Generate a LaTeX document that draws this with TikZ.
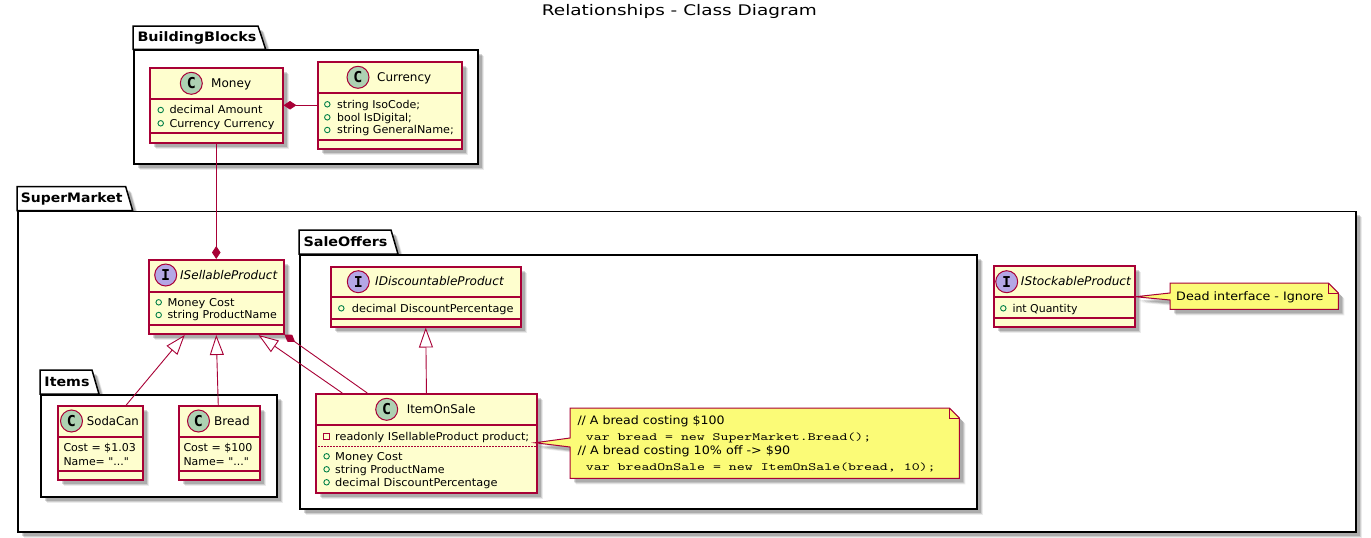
\documentclass[tikz,border=0pt]{standalone}
\usepackage{fontspec}
\setmainfont{DejaVu Sans}
\newfontfamily\plainfont{DejaVu Sans}
\newfontfamily\spotfont{DejaVu Sans Mono}
\newfontfamily\codefont{Latin Modern Mono}
\usetikzlibrary{arrows.meta,shadows,calc}
\definecolor{umlred}{HTML}{A80036}
\definecolor{umlfill}{HTML}{FEFECE}
\definecolor{umlnote}{HTML}{FBFB77}
\definecolor{spotc}{HTML}{ADD1B2}
\definecolor{spoti}{HTML}{B4A7E5}
\definecolor{visgreen}{HTML}{038048}
\newcommand{\fitw}[2]{\resizebox{#1pt}{\height}{#2}}
\tikzset{
  softshadow/.style={
    drop shadow={shadow xshift=6pt,shadow yshift=-6pt,fill=black,opacity=.08},
    drop shadow={shadow xshift=5pt,shadow yshift=-5pt,fill=black,opacity=.12},
    drop shadow={shadow xshift=4pt,shadow yshift=-4pt,fill=black,opacity=.16}},
  pkgshape/.style={draw=black,line width=1.5pt,fill=white,softshadow,line join=miter},
  pkgbody/.style={rectangle,draw=black,line width=1.5pt,fill=white,softshadow,inner sep=0pt,anchor=north west},
  pkgtitle/.style={anchor=west,inner sep=0pt,font=\fontsize{13}{15}\selectfont\bfseries,text height=10pt,text depth=2pt},
  classbox/.style={rectangle,draw=umlred,line width=1.5pt,fill=umlfill,softshadow,inner sep=0pt,anchor=north west},
  sepline/.style={draw=umlred,line width=1.2pt},
  dotline/.style={draw=umlred,line width=.7pt,dash pattern=on 1.5pt off 1.5pt},
  spotC/.style={circle,draw=umlred,line width=1pt,fill=spotc,minimum size=22pt,inner sep=0pt,font=\fontsize{15}{15}\selectfont\spotfont\bfseries},
  spotI/.style={spotC,fill=spoti},
  cname/.style={anchor=west,inner sep=0pt,font=\fontsize{12}{14}\selectfont,text height=9pt,text depth=.5pt},
  iname/.style={cname,font=\fontsize{12}{14}\selectfont\itshape},
  attr/.style={anchor=west,inner sep=0pt,font=\fontsize{10.8}{12}\selectfont,text height=8pt,text depth=.5pt},
  pub/.style={circle,draw=visgreen,line width=.9pt,minimum size=5.5pt,inner sep=0pt},
  priv/.style={rectangle,draw=umlred,line width=.9pt,minimum size=5.5pt,inner sep=0pt},
  link/.style={draw=umlred,line width=.9pt},
  composed/.style={link,{Diamond[length=13pt,width=8.5pt,fill=umlred]}-},
  inherit/.style={link,{Triangle[open,length=20pt,width=14pt,fill=white,line width=.9pt]}-},
  noteanchor/.style={rectangle,inner sep=0pt,anchor=north west},
  noteshape/.style={draw=umlred,line width=1pt,fill=umlnote,softshadow,line join=miter},
  folded/.style={draw=umlred,line width=1pt},
  notetext/.style={anchor=west,inner sep=0pt,font=\fontsize{11.6}{14}\selectfont,text height=9pt,text depth=1pt},
  codetext/.style={anchor=west,inner sep=0pt,font=\fontsize{11}{13}\selectfont\codefont,text height=8pt,text depth=.5pt},
  maintitle/.style={anchor=west,inner sep=0pt,font=\fontsize{14.6}{18}\selectfont,text height=11pt,text depth=1pt},
}
\begin{document}
\begin{tikzpicture}[x=1pt,y=-1pt]
\useasboundingbox (0,0) rectangle (1371,538);
\fill[white] (0,0) rectangle (1371,538);
\node[maintitle] (title) at (541.7,10.5) {\fitw{275}{Relationships - Class Diagram}};

% packages
\draw[pkgshape] (133,49.3) -- (133,26) -- (258,26) -- (265.7,49.3) -- cycle;
\node[pkgbody,minimum width=344pt,minimum height=114pt] (bb) at (133,49.3) {};
\node[pkgtitle] (bbt) at (137.3,37.3) {\fitw{119}{BuildingBlocks}};

\draw[pkgshape] (17,210.7) -- (17,186.7) -- (125.7,186.7) -- (132.7,210.7) -- cycle;
\node[pkgbody,minimum width=1338pt,minimum height=320.5pt] (sm) at (17,210.7) {};
\node[pkgtitle] (smt) at (20.7,198.7) {\fitw{101.6}{SuperMarket}};

\draw[pkgshape] (40,394) -- (40,370) -- (92,370) -- (99,394) -- cycle;
\node[pkgbody,minimum width=236pt,minimum height=102pt] (items) at (40,394) {};
\node[pkgtitle] (itemst) at (44.3,382) {\fitw{45}{Items}};

\draw[pkgshape] (299,254) -- (299,230) -- (391,230) -- (398,254) -- cycle;
\node[pkgbody,minimum width=677pt,minimum height=254pt] (so) at (299,254) {};
\node[pkgtitle] (sot) at (303.3,242) {\fitw{84}{SaleOffers}};

% Money
\node[classbox,minimum width=133pt,minimum height=75pt] (money) at (149,67) {};
\draw[sepline] (money.west |- 0,99) -- (money.east |- 0,99);
\draw[sepline] (money.west |- 0,133) -- (money.east |- 0,133);
\node[spotC] (moneyS) at (191.3,83.3) {C};
\node[cname] (moneyN) at (211,83.3) {\fitw{40}{Money}};
\node[pub] (moneyV1) at (160.7,110) {};
\node[attr] (moneyA1) at (169.3,110) {\fitw{93}{decimal Amount}};
\node[pub] (moneyV2) at (160.7,123.3) {};
\node[attr] (moneyA2) at (169.3,123.3) {\fitw{105}{Currency Currency}};

% Currency
\node[classbox,minimum width=144pt,minimum height=87pt] (currency) at (317,61) {};
\draw[sepline] (currency.west |- 0,93) -- (currency.east |- 0,93);
\draw[sepline] (currency.west |- 0,140) -- (currency.east |- 0,140);
\node[spotC] (currencyS) at (358,77.3) {C};
\node[cname] (currencyN) at (377,77.3) {\fitw{54}{Currency}};
\node[pub] (currencyV1) at (327.3,104.3) {};
\node[attr] (currencyA1) at (337,104.3) {\fitw{83}{string IsoCode;}};
\node[pub] (currencyV2) at (327.3,117.3) {};
\node[attr] (currencyA2) at (337,117.3) {\fitw{74.7}{bool IsDigital;}};
\node[pub] (currencyV3) at (327.3,130) {};
\node[attr] (currencyA3) at (337,130) {\fitw{116.7}{string GeneralName;}};

% ISellableProduct
\node[classbox,minimum width=135pt,minimum height=74pt] (isell) at (148,259) {};
\draw[sepline] (isell.west |- 0,292) -- (isell.east |- 0,292);
\draw[sepline] (isell.west |- 0,325) -- (isell.east |- 0,325);
\node[spotI] (isellS) at (165.7,275) {I};
\node[iname] (isellN) at (180,275) {\fitw{97}{ISellableProduct}};
\node[pub] (isellV1) at (158.7,302.3) {};
\node[attr] (isellA1) at (167.3,302.3) {\fitw{67}{Money Cost}};
\node[pub] (isellV2) at (158.7,315) {};
\node[attr] (isellA2) at (167.3,315) {\fitw{109.3}{string ProductName}};

% SodaCan
\node[classbox,minimum width=85pt,minimum height=74pt] (soda) at (57,405) {};
\draw[sepline] (soda.west |- 0,437) -- (soda.east |- 0,437);
\draw[sepline] (soda.west |- 0,471) -- (soda.east |- 0,471);
\node[spotC] (sodaS) at (71.5,421) {C};
\node[cname] (sodaN) at (86.7,421) {\fitw{52}{SodaCan}};
\node[attr] (sodaA1) at (63.3,448) {\fitw{72.3}{Cost = \$1.03}};
\node[attr] (sodaA2) at (63.3,461.3) {\fitw{65.3}{\plainfont Name= "..."}};

% Bread
\node[classbox,minimum width=81pt,minimum height=74pt] (bread) at (178,405) {};
\draw[sepline] (bread.west |- 0,437) -- (bread.east |- 0,437);
\draw[sepline] (bread.west |- 0,471) -- (bread.east |- 0,471);
\node[spotC] (breadS) at (198.5,421) {C};
\node[cname] (breadN) at (214,421) {\fitw{35.5}{Bread}};
\node[attr] (breadA1) at (183.3,448) {\fitw{69}{Cost = \$100}};
\node[attr] (breadA2) at (183.3,461.3) {\fitw{65.3}{\plainfont Name= "..."}};

% IDiscountableProduct
\node[classbox,minimum width=190pt,minimum height=60pt] (idisc) at (330,266) {};
\draw[sepline] (idisc.west |- 0,297) -- (idisc.east |- 0,297);
\draw[sepline] (idisc.west |- 0,319) -- (idisc.east |- 0,319);
\node[spotI] (idiscS) at (358.3,281.7) {I};
\node[iname] (idiscN) at (375,281.7) {\fitw{128.5}{IDiscountableProduct}};
\node[pub] (idiscV1) at (341.3,308.3) {};
\node[attr] (idiscA1) at (351.7,308.3) {\fitw{161.7}{decimal DiscountPercentage}};

% ItemOnSale
\node[classbox,minimum width=221pt,minimum height=99pt] (sale) at (315,393) {};
\draw[sepline] (sale.west |- 0,425) -- (sale.east |- 0,425);
\draw[dotline] (sale.west |- 0,446) -- (sale.east |- 0,446);
\node[spotC] (saleS) at (386.7,409.3) {C};
\node[cname] (saleN) at (406.7,409.3) {\fitw{68.6}{ItemOnSale}};
\node[priv] (saleV0) at (326.4,436.3) {};
\node[attr] (saleA0) at (335,436.3) {\fitw{194}{readonly ISellableProduct product;}};
\node[pub] (saleV1) at (326.6,456.3) {};
\node[attr] (saleA1) at (335,456.3) {\fitw{67.3}{Money Cost}};
\node[pub] (saleV2) at (326.6,469.3) {};
\node[attr] (saleA2) at (335,469.3) {\fitw{109.3}{string ProductName}};
\node[pub] (saleV3) at (326.6,482.3) {};
\node[attr] (saleA3) at (335,482.3) {\fitw{162.3}{decimal DiscountPercentage}};

% IStockableProduct
\node[classbox,minimum width=141pt,minimum height=61pt] (istock) at (993,265) {};
\draw[sepline] (istock.west |- 0,297) -- (istock.east |- 0,297);
\draw[sepline] (istock.west |- 0,318) -- (istock.east |- 0,318);
\node[spotI] (istockS) at (1006.7,281.7) {I};
\node[iname] (istockN) at (1020.7,281.7) {\fitw{110}{IStockableProduct}};
\node[pub] (istockV1) at (1003.3,308.3) {};
\node[attr] (istockA1) at (1012.3,308.3) {\fitw{65}{int Quantity}};

% notes
\node[noteanchor,minimum width=168pt,minimum height=26pt] (deadnote) at (1170,283) {};
\coordinate (deadtip) at ($(istock.east)+(0,0.5)$);
\draw[noteshape] (deadnote.north west) -- ($(deadnote.north east)+(-10,0)$) -- ($(deadnote.north east)+(0,10)$) -- (deadnote.south east) -- (deadnote.south west) -- (deadnote.west |- 0,300) -- (deadtip) -- (deadnote.west |- 0,293) -- cycle;
\draw[folded] ($(deadnote.north east)+(-10,0)$) |- ($(deadnote.north east)+(0,10)$);
\node[notetext] (deadtext) at (1176,296.5) {\fitw{147.3}{Dead interface - Ignore}};

\node[noteanchor,minimum width=389pt,minimum height=70pt] (codenote) at (570,408) {};
\coordinate (codetip) at ($(sale.east)+(-2.5,-0.5)$);
\draw[noteshape] (codenote.north west) -- ($(codenote.north east)+(-10,0)$) -- ($(codenote.north east)+(0,10)$) -- (codenote.south east) -- (codenote.south west) -- (codenote.west |- 0,447) -- (codetip) -- (codenote.west |- 0,438) -- cycle;
\draw[folded] ($(codenote.north east)+(-10,0)$) |- ($(codenote.north east)+(0,10)$);
\node[notetext] (code1) at (577.3,420.7) {\fitw{147}{// A bread costing \$100}};
\node[codetext] (code2) at (585.7,436.7) {\fitw{285.3}{var bread = new SuperMarket.Bread();}};
\node[notetext] (code3) at (577.3,450.7) {\fitw{212.7}{// A bread costing 10\% off -> \$90}};
\node[codetext] (code4) at (585.7,466.7) {\fitw{349.7}{var breadOnSale = new ItemOnSale(bread, 10);}};

% connectors
\draw[composed] (money.east) -- (currency.west);
\draw[composed] (isell.north) -- (money.south);
\draw[inherit] ($(isell.south)+(-31.5,0.5)$) -- ($(soda.north)+(26,0)$);
\draw[inherit] ($(isell.south)+(0,0.5)$) -- ($(bread.north)+(-1,0)$);
\draw[inherit] ($(isell.south east)+(-26,0.5)$) -- ($(sale.north)+(-84,0)$);
\draw[composed] (isell.south east) -- ($(sale.north)+(-59,0)$);
\draw[inherit] (idisc.south) -- ($(sale.north)+(0.2,0)$);
\end{tikzpicture}
\end{document}
